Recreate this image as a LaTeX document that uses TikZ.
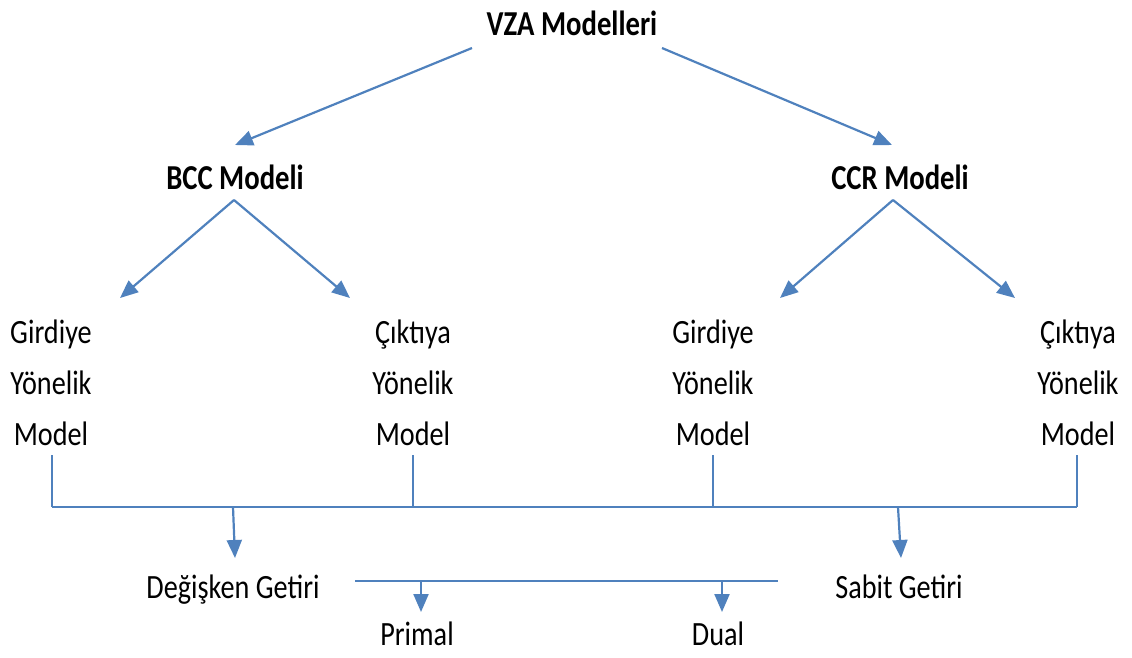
\documentclass[tikz,border=0pt]{standalone}
\usepackage{fontspec}
\setmainfont{Carlito}[FakeStretch=0.83]
\newfontfamily\boldfam{Carlito}[FakeStretch=0.82]
\usetikzlibrary{arrows.meta}
\definecolor{lineblue}{RGB}{79,129,189}
\begin{document}
\begin{tikzpicture}[x=1pt,y=-1pt,
  lbl/.style={font=\fontsize{34}{51}\selectfont, inner sep=0pt, align=center, anchor=base},
  ttl/.style={font=\boldfam\bfseries\fontsize{35}{40}\selectfont, inner sep=0pt, anchor=base},
  conn/.style={draw=lineblue, line width=2.2pt},
  arr/.style={conn, -{Triangle[length=18pt,width=15pt]}}]
\useasboundingbox (0,0) rectangle (1132,657);
% titles
\node[ttl] (vza) at (572,35) {VZA Modelleri};
\node[ttl] (bcc) at (235,189) {BCC Modeli};
\node[ttl] (ccr) at (900,189) {CCR Modeli};
% orientation models
\node[lbl] (bccin)  at (51,445)   {Girdiye\\Yönelik\\Model};
\node[lbl] (bccout) at (413,445)  {Çıktıya\\Yönelik\\Model};
\node[lbl] (ccrin)  at (713,445)  {Girdiye\\Yönelik\\Model};
\node[lbl] (ccrout) at (1078,445) {Çıktıya\\Yönelik\\Model};
% returns
\node[lbl] (deg) at (233,598) {Değişken Getiri};
\node[lbl] (sab) at (899,598) {Sabit Getiri};
\node[lbl] (pri) at (417,645) {Primal};
\node[lbl] (dua) at (718,645) {Dual};
% connector points
\coordinate (vzaL) at (472,48);
\coordinate (vzaR) at (662,48);
\coordinate (bccT) at (235,145);
\coordinate (ccrT) at (892,145);
\coordinate (bccB) at (234,200);
\coordinate (ccrB) at (893,200);
\coordinate (bccinT) at (120,298);
\coordinate (bccoutT) at (350,298);
\coordinate (ccrinT) at (780,298);
\coordinate (ccroutT) at (1015,298);
\coordinate (b1) at (52,455);
\coordinate (b2) at (413,455);
\coordinate (b3) at (713,455);
\coordinate (b4) at (1077,455);
\coordinate (busL) at (52,507);
\coordinate (busR) at (1077,507);
\coordinate (degS) at (233,507);
\coordinate (degT) at (235,558);
\coordinate (sabS) at (898,507);
\coordinate (sabT) at (901,558);
\coordinate (gL) at (355,581);
\coordinate (gR) at (778,581);
\coordinate (priS) at (421,581);
\coordinate (priT) at (421,612);
\coordinate (duaS) at (722,581);
\coordinate (duaT) at (722,612);
% connectors
\draw[arr] (vzaL) -- (bccT);
\draw[arr] (vzaR) -- (ccrT);
\draw[arr] (bccB) -- (bccinT);
\draw[arr] (bccB) -- (bccoutT);
\draw[arr] (ccrB) -- (ccrinT);
\draw[arr] (ccrB) -- (ccroutT);
\draw[conn] (b1) -- (busL);
\draw[conn] (b2) -- (b2 |- busL);
\draw[conn] (b3) -- (b3 |- busL);
\draw[conn] (b4) -- (busR);
\draw[conn] (busL) -- (busR);
\draw[arr] (degS) -- (degT);
\draw[arr] (sabS) -- (sabT);
\draw[conn] (gL) -- (gR);
\draw[arr] (priS) -- (priT);
\draw[arr] (duaS) -- (duaT);
\end{tikzpicture}
\end{document}
